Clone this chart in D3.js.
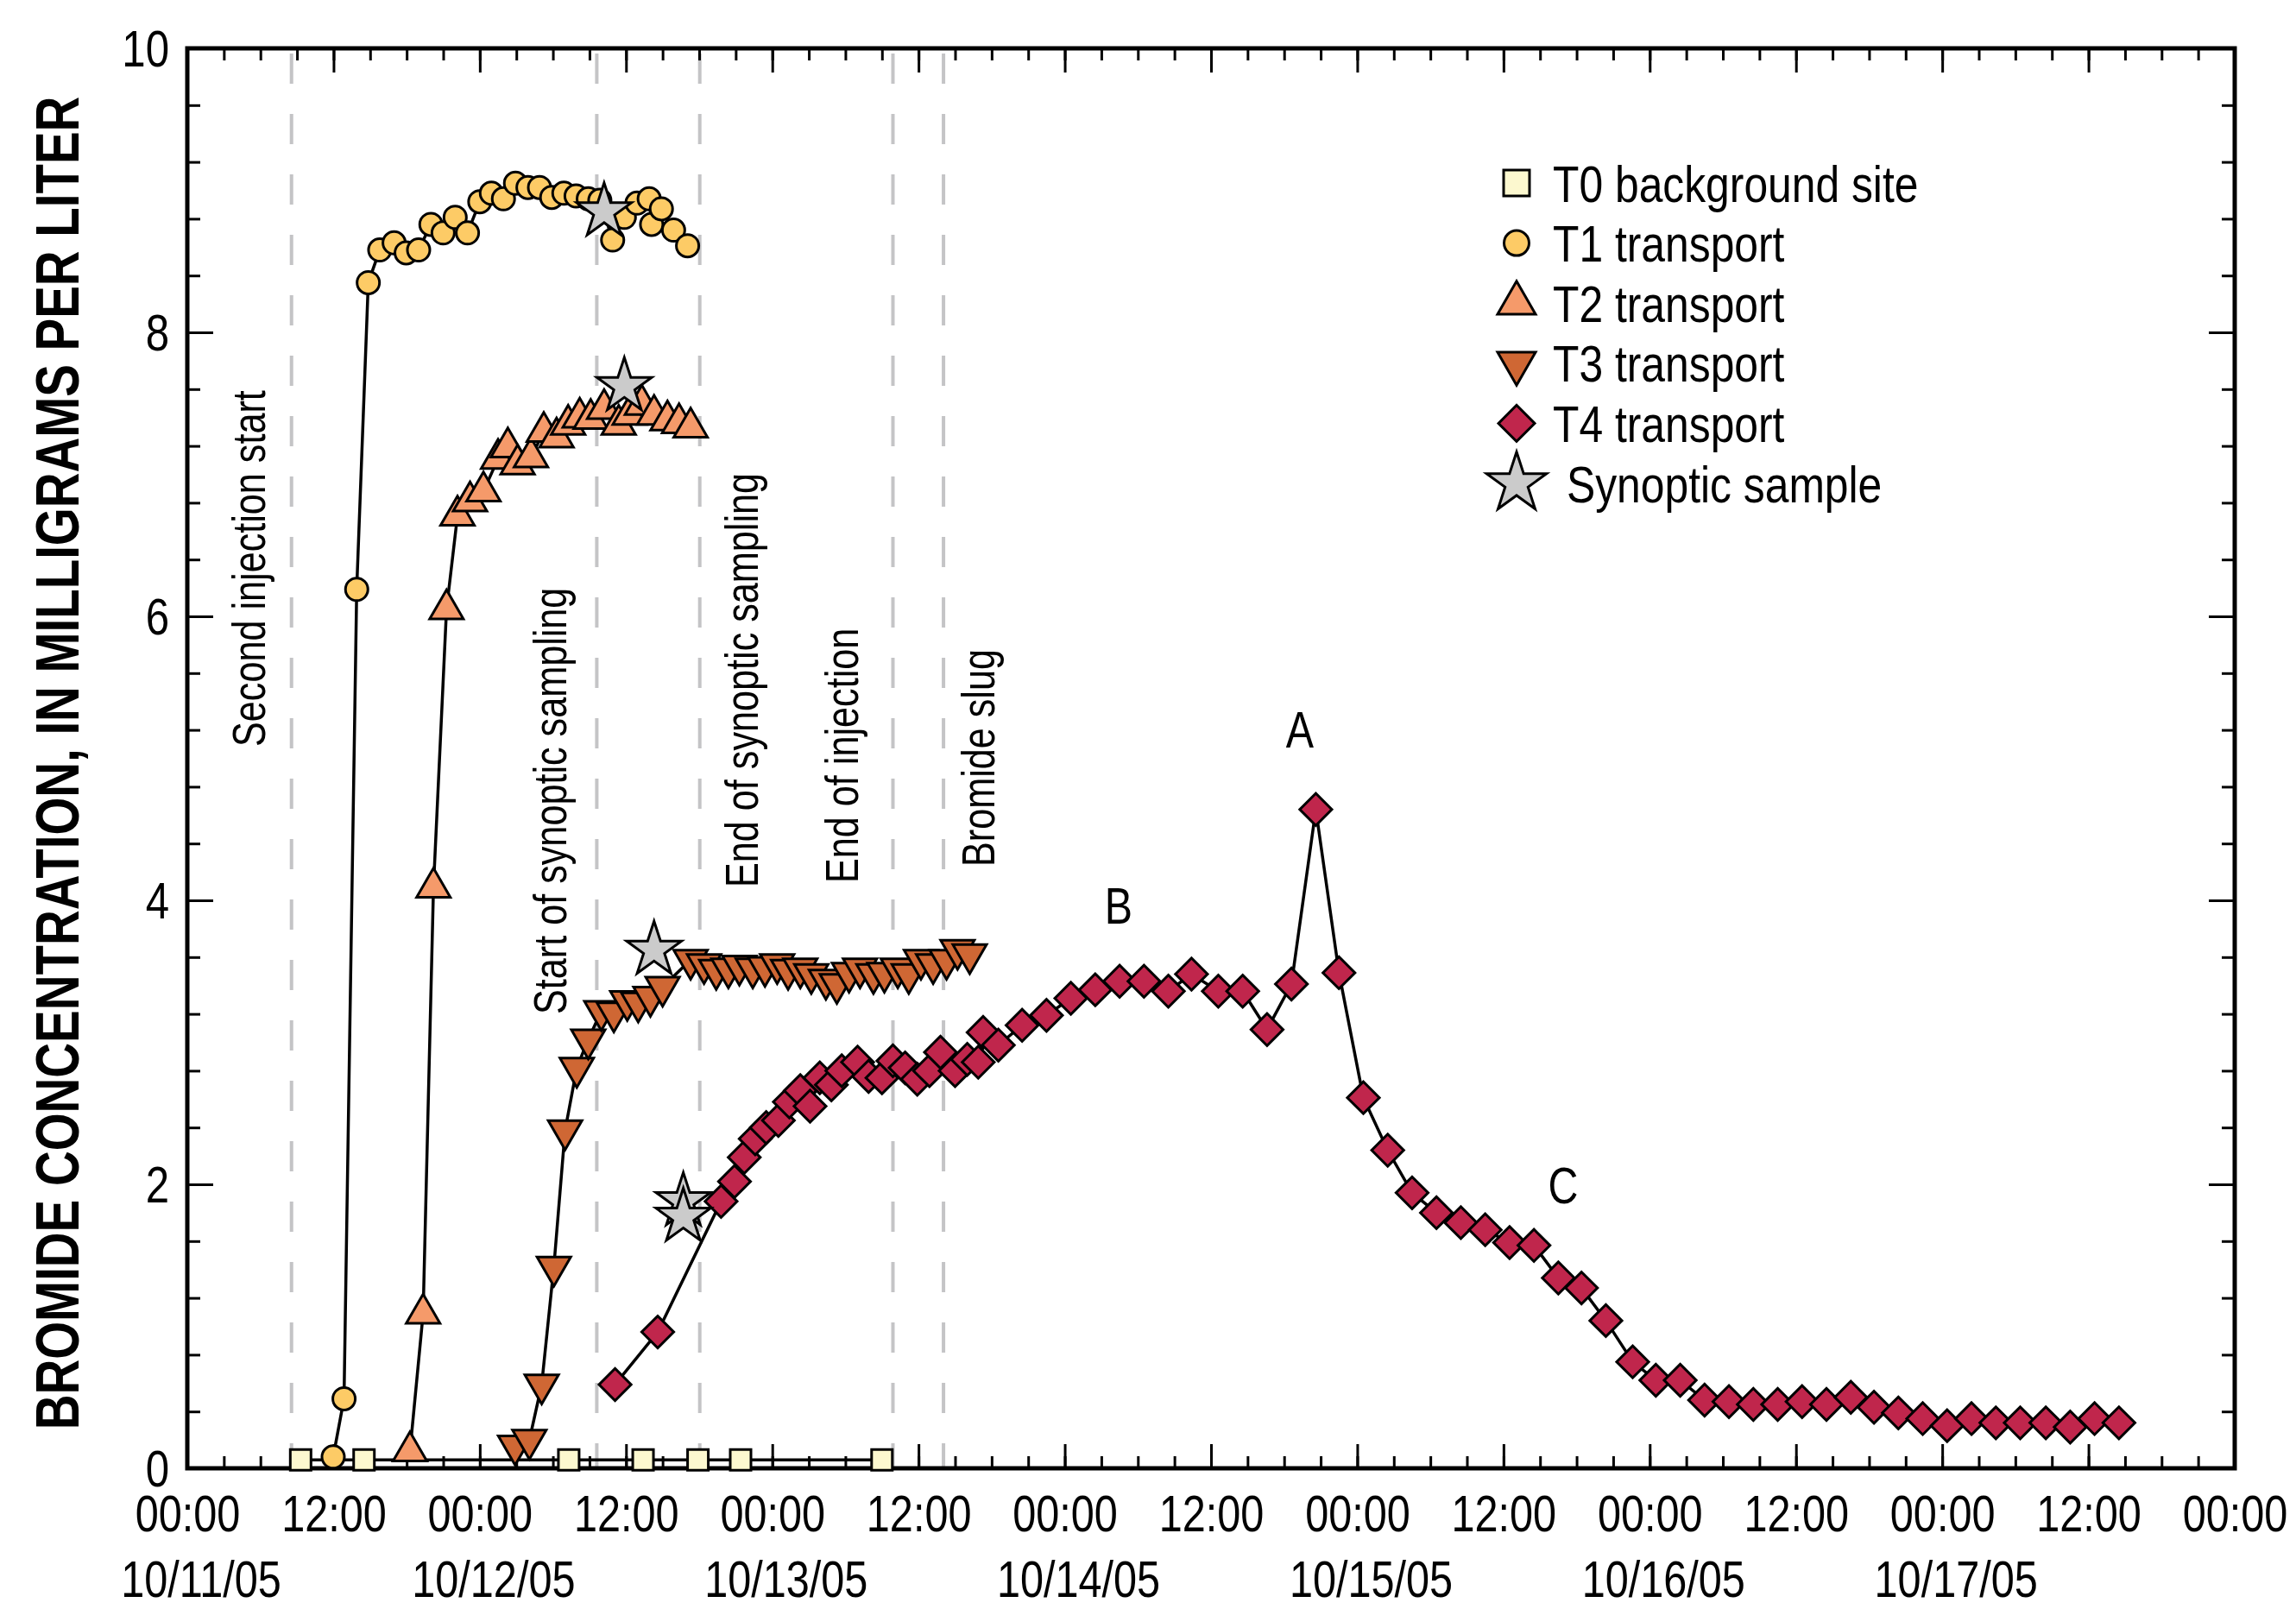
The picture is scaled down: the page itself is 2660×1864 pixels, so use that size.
<!DOCTYPE html>
<html lang="en">
<head>
<meta charset="UTF-8">
<title>Bromide concentration at transport sites</title>
<script src="https://d3js.org/d3.v7.min.js"></script>
<style>
  body { margin: 0; background: #fff; }
  svg { display: block; font-family: "Liberation Sans", Arial, sans-serif; }
</style>
</head>
<body>
<svg width="2660" height="1864"></svg>
<script>
// time = hours after 10/11/05 00:00, conc = bromide, mg/L
const t0Time = [9.3, 14.5, 31.3, 37.4, 41.9, 45.4, 57.0];
const t0Conc = [0.06, 0.06, 0.06, 0.06, 0.06, 0.06, 0.06];

const t1Time = [11.97, 12.86, 13.9, 14.85, 15.79, 16.97, 17.96, 18.98, 19.99, 20.99, 21.98, 22.99, 24.0, 24.95, 25.94, 26.93,
  27.95, 28.9, 29.9, 30.9, 31.9, 32.9, 33.85, 34.9, 35.86, 36.9, 37.9, 38.1, 38.9, 39.9, 41.05];
const t1Conc = [0.08, 0.49, 6.19, 8.35, 8.58, 8.63, 8.56, 8.58, 8.76, 8.70, 8.81, 8.70, 8.92, 8.98, 8.94, 9.05,
  9.02, 9.02, 8.95, 8.98, 8.96, 8.94, 8.93, 8.65, 8.81, 8.91, 8.94, 8.76, 8.87, 8.72, 8.61];

const t2Time = [18.27, 19.35, 20.2, 21.27, 22.17, 23.2, 24.3, 25.5, 26.3, 27.1, 28.2, 29.25, 30.3, 31.25, 32.2, 33.1,
  34.2, 35.4, 36.3, 37.3, 38.3, 39.4, 40.35, 41.3];
const t2Conc = [0.12, 1.09, 4.09, 6.05, 6.71, 6.81, 6.88, 7.11, 7.19, 7.07, 7.12, 7.30, 7.26, 7.35, 7.40, 7.39,
  7.46, 7.35, 7.42, 7.49, 7.42, 7.38, 7.36, 7.33];

const t3Time = [26.9, 28.07, 29.08, 30.08, 31.0, 31.96, 32.9, 33.97, 35.0, 36.1, 37.0, 38.0, 39.0, 41.3, 42.4, 43.4,
  44.4, 45.3, 46.4, 47.4, 48.4, 49.3, 50.3, 51.2, 52.4, 53.3, 54.3, 55.2, 56.3, 57.2, 58.3, 59.2, 60.2, 61.2, 62.3, 63.2, 64.2];
const t3Conc = [0.16, 0.20, 0.59, 1.42, 2.38, 2.82, 3.02, 3.22, 3.21, 3.29, 3.28, 3.32, 3.39, 3.58, 3.55, 3.51,
  3.52, 3.54, 3.52, 3.53, 3.55, 3.51, 3.52, 3.48, 3.44, 3.41, 3.49, 3.52, 3.48, 3.49, 3.52, 3.48, 3.58, 3.55, 3.58, 3.65, 3.62];

const t4Time = [35.1, 38.6, 43.8, 44.9, 45.7, 46.6, 47.5, 48.5, 49.4, 50.3, 51.1, 51.9, 52.85, 53.7, 55.0, 55.9,
  57.0, 57.9, 58.9, 59.9, 60.9, 61.8, 63.0, 64.0, 64.9, 65.3, 66.55, 68.5, 70.5, 72.5, 74.5, 76.5,
  78.5, 80.5, 82.4, 84.6, 86.6, 88.6, 90.6, 92.6, 94.5, 96.5, 98.5, 100.5, 102.5, 104.5, 106.5, 108.5,
  110.5, 112.5, 114.4, 116.4, 118.6, 120.5, 122.5, 124.5, 126.5, 128.5, 130.5, 132.5, 134.5, 136.5, 138.4, 140.4,
  142.4, 144.4, 146.4, 148.4, 150.4, 152.5, 154.5, 156.5, 158.5];
const t4Conc = [0.59, 0.96, 1.88, 2.02, 2.19, 2.32, 2.40, 2.45, 2.58, 2.66, 2.55, 2.75, 2.70, 2.80, 2.86, 2.76,
  2.75, 2.87, 2.82, 2.74, 2.80, 2.93, 2.80, 2.88, 2.86, 3.07, 2.98, 3.12, 3.19, 3.31, 3.37, 3.43,
  3.43, 3.36, 3.48, 3.36, 3.36, 3.09, 3.41, 4.64, 3.49, 2.61, 2.24, 1.94, 1.80, 1.73, 1.68, 1.59,
  1.57, 1.34, 1.27, 1.04, 0.75, 0.62, 0.62, 0.48, 0.47, 0.45, 0.45, 0.47, 0.45, 0.50, 0.43, 0.39,
  0.35, 0.30, 0.35, 0.32, 0.32, 0.32, 0.29, 0.35, 0.32];

const starTime = [34.2, 35.86, 38.3, 40.7, 40.7];
const starConc = [8.85, 7.62, 3.65, 1.88, 1.77];

const eventTime = [8.55, 33.6, 42.05, 57.9, 62.05];
const eventLabels = ["Second injection start", "Start of synoptic sampling", "End of synoptic sampling",
  "End of injection", "Bromide slug"];

const xTickLabels = ["00:00", "12:00", "00:00", "12:00", "00:00", "12:00", "00:00", "12:00",
  "00:00", "12:00", "00:00", "12:00", "00:00", "12:00", "00:00"];
const dateLabels = ["10/11/05", "10/12/05", "10/13/05", "10/14/05", "10/15/05", "10/16/05", "10/17/05"];
const yTickLabels = ["0", "2", "4", "6", "8", "10"];

const legendLabels = ["T0 background site", "T1 transport", "T2 transport", "T3 transport", "T4 transport", "Synoptic sample"];
const peakLabels = ["A", "B", "C"];

// ---- layout ----
const L = 217, R = 2589, T = 56, B = 1701;
const x = d3.scaleLinear().domain([0, 168]).range([L, R]);
const y = d3.scaleLinear().domain([0, 10]).range([B, T]);
const svg = d3.select("svg");

// squeezes text horizontally to look like the condensed face of the original
function squeeze(sel, sx) {
  sel.each(function() {
    const t = d3.select(this);
    const tx = +t.attr("x") || 0;
    t.attr("x", null).attr("transform", `translate(${tx},0) scale(${sx},1)`);
  });
}

// dashed event lines
svg.append("g").selectAll("line").data(eventTime).join("line")
  .attr("x1", d => x(d)).attr("x2", d => x(d))
  .attr("y1", T).attr("y2", B)
  .attr("stroke", "#c4c4c6").attr("stroke-width", 4)
  .attr("stroke-dasharray", "35 35").attr("stroke-dashoffset", -6);

const labelDx = [-31, -35, 67, -40, 59];
const labelY = [865, 1175, 1028, 1023, 1004];
svg.append("g").selectAll("text").data(eventLabels).join("text")
  .attr("transform", (d, i) => `translate(${x(eventTime[i]) + labelDx[i]},${labelY[i]}) rotate(-90) scale(0.8,1)`)
  .attr("font-size", 54)
  .text(d => d);

// axes
function styleAxis(g) {
  g.select(".domain").remove();
  g.selectAll(".tick line").attr("stroke", "#000").attr("stroke-width", 3);
  g.selectAll(".tick text").attr("font-size", 60).attr("fill", "#000")
    .attr("font-family", "Liberation Sans, Arial, sans-serif");
}
const majorH = d3.range(0, 169, 12);
const minorH = d3.range(0, 169, 3);
const majorV = d3.range(0, 11, 2);
const minorV = d3.range(0, 26).map(i => i * 0.4);

svg.append("g").attr("transform", `translate(0,${B})`)
  .call(d3.axisBottom(x).tickValues(minorH).tickSize(-14).tickFormat("")).call(styleAxis);
svg.append("g").attr("transform", `translate(0,${B})`)
  .call(d3.axisBottom(x).tickValues(majorH).tickSize(-28).tickPadding(30).tickFormat((d, i) => xTickLabels[i]))
  .call(styleAxis)
  .call(g => squeeze(g.selectAll(".tick text"), 0.81));
svg.append("g").attr("transform", `translate(0,${T})`)
  .call(d3.axisTop(x).tickValues(minorH).tickSize(-14).tickFormat("")).call(styleAxis);
svg.append("g").attr("transform", `translate(0,${T})`)
  .call(d3.axisTop(x).tickValues(majorH).tickSize(-28).tickFormat("")).call(styleAxis);

svg.append("g").attr("transform", `translate(${L},0)`)
  .call(d3.axisLeft(y).tickValues(minorV).tickSize(-15).tickFormat("")).call(styleAxis);
svg.append("g").attr("transform", `translate(${L},0)`)
  .call(d3.axisLeft(y).tickValues(majorV).tickSize(-30).tickPadding(21).tickFormat((d, i) => yTickLabels[i]))
  .call(styleAxis)
  .call(g => g.selectAll(".tick text").attr("dy", "0.34em"))
  .call(g => squeeze(g.selectAll(".tick text"), 0.82));
svg.append("g").attr("transform", `translate(${R},0)`)
  .call(d3.axisRight(y).tickValues(minorV).tickSize(-15).tickFormat("")).call(styleAxis);
svg.append("g").attr("transform", `translate(${R},0)`)
  .call(d3.axisRight(y).tickValues(majorV).tickSize(-30).tickFormat("")).call(styleAxis);

// date row under the time labels
svg.append("g").selectAll("text").data(dateLabels).join("text")
  .attr("transform", (d, i) => `translate(${x(i * 24) + 16},1850) scale(0.81,1)`)
  .attr("text-anchor", "middle").attr("font-size", 60)
  .text(d => d);

// frame
svg.append("rect").attr("x", L).attr("y", T).attr("width", R - L).attr("height", B - T)
  .attr("fill", "none").attr("stroke", "#000").attr("stroke-width", 5);

// y title
svg.append("text")
  .attr("transform", "translate(91,884) rotate(-90) scale(0.795,1)")
  .attr("text-anchor", "middle").attr("font-size", 71).attr("font-weight", "bold")
  .text("BROMIDE CONCENTRATION, IN MILLIGRAMS PER LITER");

// series
const line = d3.line().x(d => x(d[0])).y(d => y(d[1]));
const series = [
  { time: t0Time, conc: t0Conc, type: d3.symbolSquare, size: 576, rot: 0, fill: "#fcf8cf" },
  { time: t1Time, conc: t1Conc, type: d3.symbolCircle, size: 531, rot: 0, fill: "#fdcb66" },
  { time: t2Time, conc: t2Conc, type: d3.symbolTriangle, size: 659, rot: 0, fill: "#f59a6a" },
  { time: t3Time, conc: t3Conc, type: d3.symbolTriangle, size: 659, rot: 180, fill: "#cf6734" },
  { time: t4Time, conc: t4Conc, type: d3.symbolSquare, size: 690, rot: 45, fill: "#c0264c" }
];
const plot = svg.append("g");
series.forEach(s => {
  const pts = d3.zip(s.time, s.conc);
  plot.append("path").datum(pts).attr("d", line)
    .attr("fill", "none").attr("stroke", "#000").attr("stroke-width", 3.5);
  plot.append("g").selectAll("path").data(pts).join("path")
    .attr("d", d3.symbol().type(s.type).size(s.size))
    .attr("transform", d => `translate(${x(d[0])},${y(d[1])}) rotate(${s.rot})`)
    .attr("fill", s.fill).attr("stroke", "#000").attr("stroke-width", 3);
});
plot.append("g").selectAll("path").data(d3.zip(starTime, starConc)).join("path")
  .attr("d", d3.symbol().type(d3.symbolStar).size(1250))
  .attr("transform", d => `translate(${x(d[0])},${y(d[1])})`)
  .attr("fill", "#cbcbcb").attr("stroke", "#000").attr("stroke-width", 3);

// peak letters
const peakPos = [[1506, 866], [1296, 1070], [1811, 1394]];
svg.append("g").selectAll("text").data(peakLabels).join("text")
  .attr("transform", (d, i) => `translate(${peakPos[i][0]},${peakPos[i][1]}) scale(0.82,1)`)
  .attr("text-anchor", "middle").attr("font-size", 59)
  .text(d => d);

// legend
const legendSym = [
  { type: d3.symbolSquare, size: 900, rot: 0, fill: "#fcf8cf" },
  { type: d3.symbolCircle, size: 660, rot: 0, fill: "#fdcb66" },
  { type: d3.symbolTriangle, size: 838, rot: 0, fill: "#f59a6a" },
  { type: d3.symbolTriangle, size: 838, rot: 180, fill: "#cf6734" },
  { type: d3.symbolSquare, size: 880, rot: 45, fill: "#c0264c" },
  { type: d3.symbolStar, size: 1496, rot: 0, fill: "#cbcbcb" }
];
const legend = svg.append("g").attr("transform", "translate(1757,212)");
const rows = legend.selectAll("g").data(legendLabels).join("g")
  .attr("transform", (d, i) => `translate(0,${i * 69.6})`);
rows.append("path")
  .attr("d", (d, i) => d3.symbol().type(legendSym[i].type).size(legendSym[i].size)())
  .attr("transform", (d, i) => `rotate(${legendSym[i].rot})`)
  .attr("fill", (d, i) => legendSym[i].fill).attr("stroke", "#000").attr("stroke-width", 3);
rows.append("text")
  .attr("transform", (d, i) => `translate(${i === 5 ? 58 : 42},21.5) scale(0.83,1)`)
  .attr("font-size", 60)
  .text(d => d);
</script>
</body>
</html>
